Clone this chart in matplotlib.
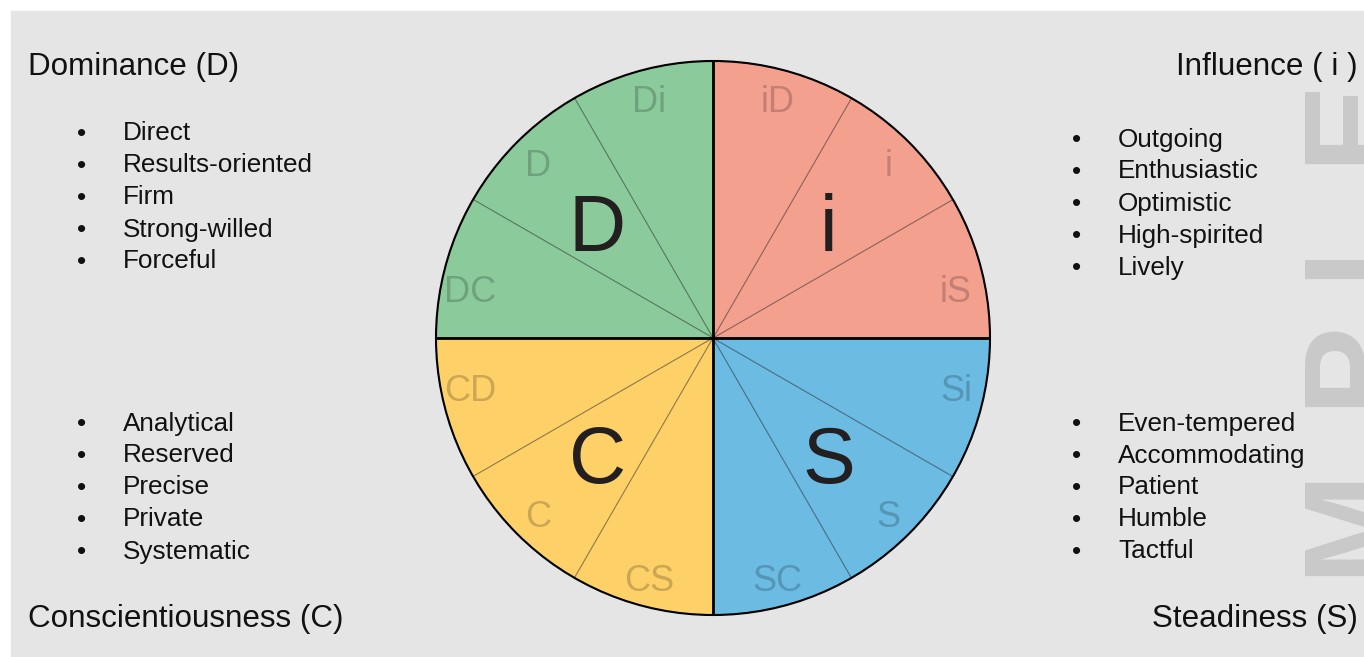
import matplotlib
matplotlib.use("Agg")
import matplotlib.pyplot as plt
import matplotlib.patches as patches
import numpy as np

plt.rcParams['font.family'] = ['Liberation Sans', 'DejaVu Sans']

# wheel data: 12 equal segments, counter-clockwise from 12 o'clock
segment_labels = ['Di', 'D', 'DC', 'CD', 'C', 'CS', 'SC', 'S', 'Si', 'iS', 'i', 'iD']
segment_values = [1] * 12
quadrant_labels = ['D', 'C', 'S', 'i']
quadrant_colors = ['#8bcb9b', '#fed068', '#6bbbe3', '#f4a08f']

# side panels
headers = ['Dominance (D)', 'Influence ( i )', 'Conscientiousness (C)', 'Steadiness (S)']
traits_d = ['Direct', 'Results-oriented', 'Firm', 'Strong-willed', 'Forceful']
traits_i = ['Outgoing', 'Enthusiastic', 'Optimistic', 'High-spirited', 'Lively']
traits_c = ['Analytical', 'Reserved', 'Precise', 'Private', 'Systematic']
traits_s = ['Even-tempered', 'Accommodating', 'Patient', 'Humble', 'Tactful']

W, H = 1364, 657
fig = plt.figure(figsize=(W / 100, H / 100), dpi=100, facecolor='white')

# background axes in pixel coords
bg = fig.add_axes([0, 0, 1, 1])
bg.set_xlim(0, W)
bg.set_ylim(H, 0)
bg.axis('off')
bg.add_patch(patches.Rectangle((11, 11), W, H, color='#e5e5e5', zorder=0))

# watermark (cut off at the right edge, as in the original)
wm_letters = list('AMPLE')
wm_centers = [705, 520, 363, 238, 120]
for ch, yc in zip(wm_letters, wm_centers):
    bg.text(1389, yc, ch, rotation=90, rotation_mode='anchor', ha='center', va='baseline',
            fontsize=96, fontweight='bold', color='#c9c9c9', zorder=1)

# headers
hdr = dict(fontsize=22.6, va='center_baseline', color='#111111', zorder=3)
bg.text(28, 64, headers[0], ha='left', **hdr)
bg.text(1358, 64, headers[1], ha='right', **hdr)
bg.text(28, 616, headers[2], ha='left', **hdr)
bg.text(1358, 616, headers[3], ha='right', **hdr)


def bullet_list(items, x_dot, x_text, y0, step=32):
    for k, item in enumerate(items):
        y = y0 + k * step
        bg.text(x_dot, y, '\u2022', fontsize=19, ha='center', va='center_baseline',
                color='#111111', zorder=3)
        bg.text(x_text, y, item, fontsize=18.8, ha='left', va='center_baseline',
                color='#111111', zorder=3)


bullet_list(traits_d, 82, 123, 131)
bullet_list(traits_i, 1077, 1118, 137)
bullet_list(traits_c, 82, 123, 421)
bullet_list(traits_s, 1077, 1118, 421)

# wheel
cx, cy, R = 713, 338, 277
ax = fig.add_axes([(cx - R) / W, (H - cy - R) / H, 2 * R / W, 2 * R / H])
seg_colors = [c for c in quadrant_colors for _ in range(3)]
wedges, _ = ax.pie(segment_values, colors=seg_colors, startangle=90, counterclock=True,
                   wedgeprops=dict(edgecolor=(0, 0, 0, 0.3), linewidth=0.8))
ax.set_xlim(-1, 1)
ax.set_ylim(-1, 1)
ax.set_aspect('equal')
ax.axis('off')

for w, lab in zip(wedges, segment_labels):
    t1, t2 = w.theta1 % 360, w.theta2 % 360
    mid = (w.theta1 + w.theta2) / 2
    # segments next to the horizontal axis have their label pulled toward it
    if round(t1) % 180 == 0:
        mid -= 3.5
    elif round(t2) % 180 == 0:
        mid += 3.5
    a = np.deg2rad(mid)
    ax.text(0.895 * np.cos(a), 0.895 * np.sin(a), lab, ha='center', va='center_baseline',
            fontsize=26, color=(0, 0, 0, 0.2))

for q, lab in enumerate(quadrant_labels):
    a = np.deg2rad((wedges[3 * q].theta1 + wedges[3 * q + 2].theta2) / 2)
    ax.text(0.59 * np.cos(a), 0.59 * np.sin(a), lab, ha='center', va='center_baseline',
            fontsize=57, color='#231f20')

ax.plot([-1, 1], [0, 0], color='black', lw=2, solid_capstyle='butt')
ax.plot([0, 0], [-1, 1], color='black', lw=2, solid_capstyle='butt')
ax.add_patch(patches.Circle((0, 0), 1, fill=False, edgecolor='black', lw=1.5, clip_on=False))

fig.savefig('out.png', dpi=100, facecolor='white')
